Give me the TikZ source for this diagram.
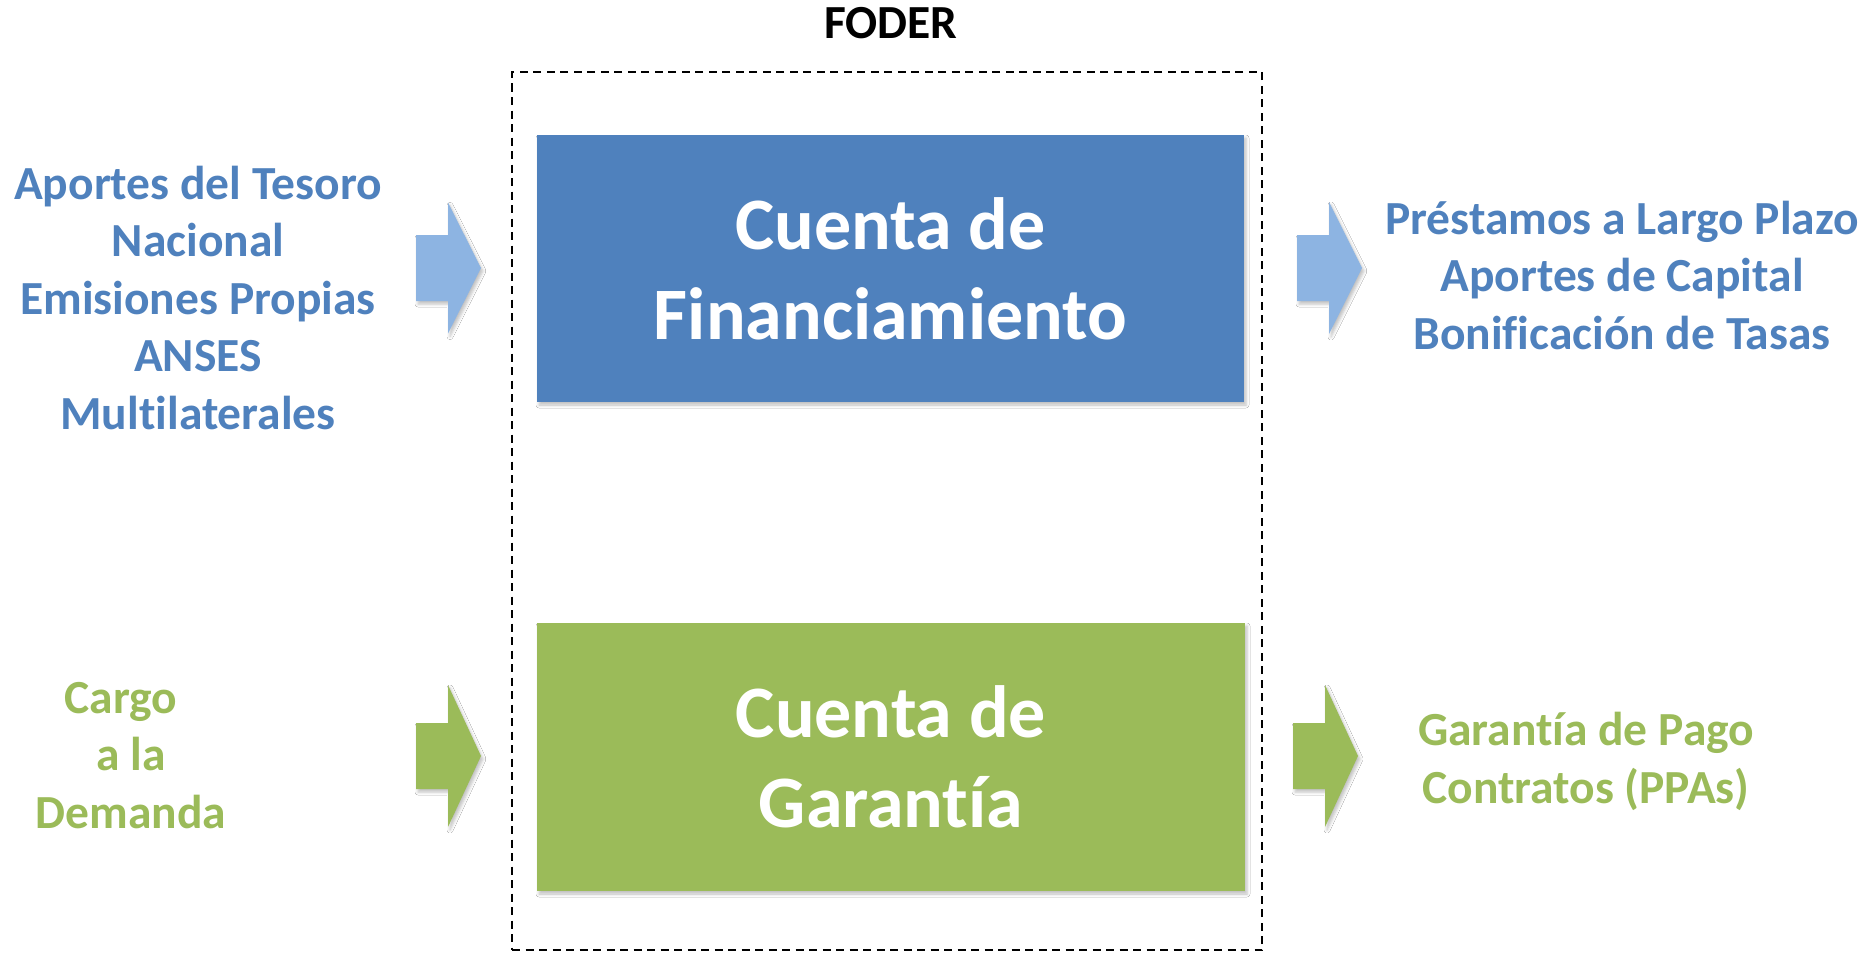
\documentclass[tikz,border=0pt]{standalone}
\usepackage{fontspec}
\setmainfont{Carlito}[Ligatures=NoCommon]
\usetikzlibrary{shadows.blur}
\definecolor{boxblue}{HTML}{4F81BD}
\definecolor{txtblue}{HTML}{4F81BD}
\definecolor{arrblue}{HTML}{8DB4E2}
\definecolor{boxgreen}{HTML}{9BBB59}
\tikzset{
  x=1pt, y=-1pt,
  softshadow/.style={blur shadow={shadow xshift=2pt, shadow yshift=-3pt, shadow blur radius=3pt, shadow opacity=25}},
  sidetext/.style={inner sep=0pt, align=center, anchor=base, font=\bfseries\fontsize{47.5}{57.5}\selectfont},
  acct/.style={inner sep=0pt, align=center, text=white, font=\bfseries\fontsize{74}{90}\selectfont, softshadow},
  frame/.style={draw=black, line width=2pt, dash pattern=on 8pt off 5.5pt, inner sep=0pt},
  pics/blockarrow/.style args={#1/#2}{code={
    \fill[#1, softshadow]
      (0,-33) -- (32,-33) -- (32,-#2) -- (65,0) -- (32,#2) -- (32,33) -- (0,33) -- cycle;}}
}
\begin{document}
\begin{tikzpicture}
\useasboundingbox[fill=white] (0,0) rectangle (1870,953);

% frame and title
\node[frame, minimum width=750pt, minimum height=878pt] (foder) at (887,511) {};
\node[sidetext, text=black] (title) at (891,38) {FODER};

% account boxes
\node[acct, fill=boxblue, minimum width=707pt, minimum height=267pt] (fin) at (890.5,268.5) {Cuenta de\\Financiamiento};
\node[acct, fill=boxgreen, minimum width=708pt, minimum height=268pt] (gar) at (891,757) {Cuenta de\\Garantía};

% side texts (anchor = baseline of the last line)
\node[sidetext, text=txtblue] (srcfin) at (198,429) {Aportes del Tesoro\\Nacional\\Emisiones Propias\\ANSES\\Multilaterales};
\node[sidetext, text=txtblue] (usefin) at (1622,349) {Préstamos a Largo Plazo\\Aportes de Capital\\Bonificación de Tasas};
\node[sidetext, text=boxgreen] (srcgar) at (131,828) {Cargo\hspace*{20pt}\\a la\hspace*{10pt}\\Demanda};
\node[sidetext, text=boxgreen] (usegar) at (1586,803) {Garantía de Pago\\Contratos (PPAs)};

% block arrows
\pic at (416,268) {blockarrow={arrblue/65.5}};
\pic at (1297,268) {blockarrow={arrblue/66}};
\pic at (416,756) {blockarrow={boxgreen/71}};
\pic at (1293,756) {blockarrow={boxgreen/71}};
\end{tikzpicture}
\end{document}
